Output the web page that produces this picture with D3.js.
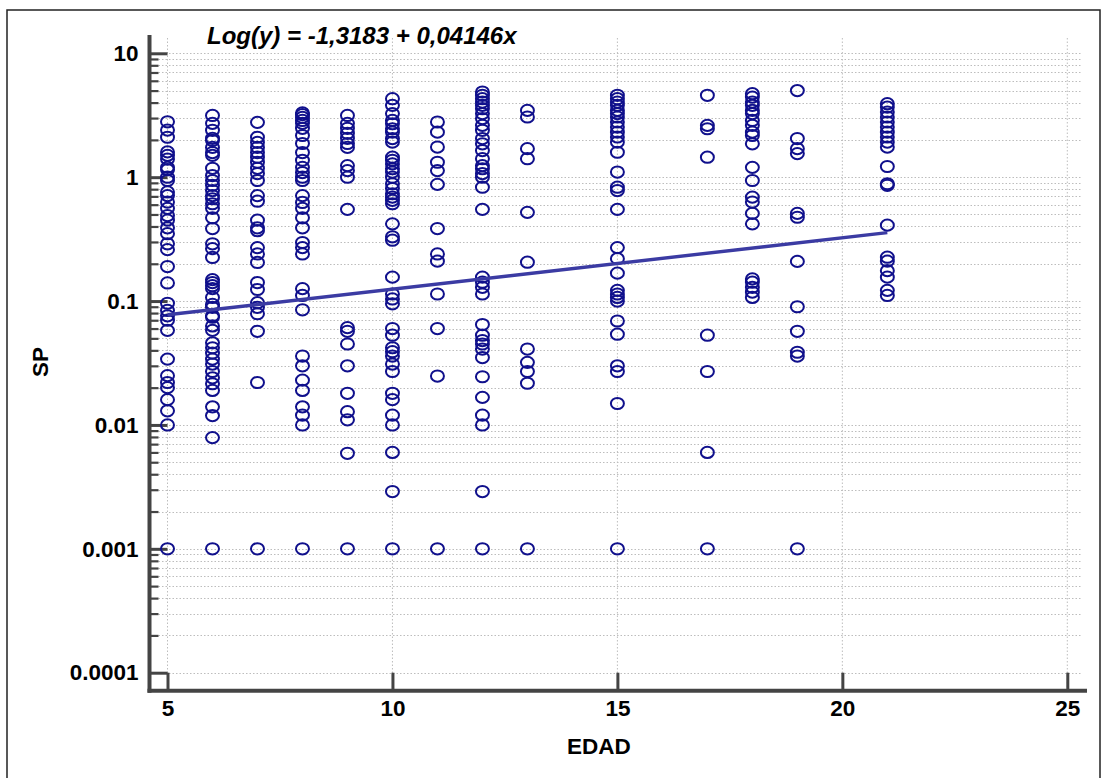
<!DOCTYPE html>
<html>
<head>
<meta charset="utf-8">
<script src="https://cdn.jsdelivr.net/npm/d3@7"></script>
<style>
  body { margin: 0; background: #fff; }
  text { font-family: "Liberation Sans", Arial, sans-serif; font-weight: bold; }
</style>
</head>
<body>
<svg id="chart" width="1108" height="778"></svg>
<script>
// SP values read per EDAD column
var sp5 = [2.8, 2.4, 2.1, 1.6, 1.5, 1.4, 1.2, 1.15, 1.0, 0.94, 0.76, 0.71, 0.63, 0.56, 0.49, 0.45, 0.39, 0.35, 0.29, 0.26, 0.19, 0.14, 0.096, 0.084, 0.076, 0.07, 0.058, 0.034, 0.025, 0.022, 0.02, 0.016, 0.013, 0.01, 0.001];
var sp6 = [3.15, 2.72, 2.39, 2.06, 1.98, 1.74, 1.58, 1.5, 1.18, 1.03, 0.94, 0.86, 0.78, 0.71, 0.67, 0.61, 0.56, 0.47, 0.385, 0.29, 0.265, 0.225, 0.149, 0.141, 0.133, 0.126, 0.107, 0.094, 0.089, 0.076, 0.074, 0.063, 0.058, 0.046, 0.042, 0.038, 0.034, 0.031, 0.027, 0.024, 0.0215, 0.019, 0.014, 0.0119, 0.0079, 0.001];
var sp7 = [2.77, 2.1, 1.91, 1.74, 1.58, 1.45, 1.32, 1.18, 1.07, 0.94, 0.71, 0.64, 0.45, 0.39, 0.37, 0.27, 0.24, 0.205, 0.141, 0.124, 0.097, 0.089, 0.079, 0.057, 0.022, 0.001];
var sp8 = [3.3, 3.2, 3.04, 2.87, 2.72, 2.48, 2.17, 1.87, 1.58, 1.37, 1.2, 1.09, 1.0, 0.94, 0.71, 0.625, 0.56, 0.47, 0.39, 0.297, 0.27, 0.24, 0.126, 0.111, 0.085, 0.036, 0.03, 0.023, 0.019, 0.014, 0.012, 0.01, 0.001];
var sp9 = [3.15, 2.72, 2.48, 2.26, 2.06, 1.87, 1.74, 1.24, 1.13, 1.0, 0.55, 0.061, 0.057, 0.045, 0.03, 0.018, 0.0128, 0.011, 0.0059, 0.001];
var sp10 = [4.3, 3.8, 3.26, 2.87, 2.7, 2.46, 2.31, 2.05, 1.92, 1.45, 1.37, 1.28, 1.17, 1.1, 1.0, 0.885, 0.81, 0.735, 0.69, 0.65, 0.61, 0.42, 0.33, 0.31, 0.156, 0.114, 0.104, 0.095, 0.06, 0.053, 0.042, 0.039, 0.036, 0.031, 0.027, 0.018, 0.016, 0.012, 0.01, 0.006, 0.0029, 0.001];
var sp11 = [2.79, 2.31, 1.75, 1.32, 1.13, 0.875, 0.385, 0.24, 0.21, 0.114, 0.06, 0.0248, 0.001];
var sp12 = [4.87, 4.58, 4.3, 4.04, 3.8, 3.57, 3.26, 2.97, 2.62, 2.39, 2.05, 1.86, 1.64, 1.41, 1.24, 1.17, 1.07, 1.0, 0.83, 0.55, 0.156, 0.142, 0.129, 0.114, 0.0646, 0.053, 0.048, 0.045, 0.041, 0.035, 0.0245, 0.0167, 0.012, 0.01, 0.0029, 0.001];
var sp13 = [3.46, 3.06, 1.7, 1.41, 0.52, 0.206, 0.041, 0.032, 0.027, 0.0217, 0.001];
var sp15 = [4.58, 4.3, 4.04, 3.8, 3.46, 3.26, 3.06, 2.79, 2.54, 2.31, 2.11, 1.92, 1.59, 1.1, 0.83, 0.78, 0.55, 0.27, 0.22, 0.168, 0.122, 0.114, 0.107, 0.1, 0.069, 0.054, 0.03, 0.027, 0.0149, 0.001];
var sp17 = [4.58, 2.62, 2.46, 1.45, 0.053, 0.027, 0.006, 0.001];
var sp18 = [4.72, 4.43, 4.04, 3.8, 3.46, 3.26, 2.87, 2.62, 2.31, 2.17, 1.86, 1.2, 0.94, 0.69, 0.63, 0.51, 0.42, 0.151, 0.142, 0.129, 0.118, 0.107];
var sp19 = [5.0, 2.05, 1.7, 1.55, 0.51, 0.475, 0.209, 0.09, 0.057, 0.0386, 0.036, 0.001];
var sp21 = [3.92, 3.68, 3.36, 3.06, 2.79, 2.54, 2.31, 2.11, 1.92, 1.75, 1.22, 0.885, 0.86, 0.41, 0.226, 0.21, 0.176, 0.156, 0.122, 0.111];

var edadValues = [5, 6, 7, 8, 9, 10, 11, 12, 13, 15, 17, 18, 19, 21];
var spColumns = [sp5, sp6, sp7, sp8, sp9, sp10, sp11, sp12, sp13, sp15, sp17, sp18, sp19, sp21];

var xTicks = [5, 10, 15, 20, 25];
var yTicks = [10, 1, 0.1, 0.01, 0.001, 0.0001];
var yTickLabels = ["10", "1", "0.1", "0.01", "0.001", "0.0001"];

// regression  Log(y) = a + b x
var intercept = -1.3183;
var slope = 0.04146;
var titleText = "Log(y) = -1,3183 + 0,04146x";

var AXIS_LEFT = 149.5, AXIS_RIGHT = 1087, AXIS_TOP = 35, AXIS_BOTTOM = 690.7;

var points = [];
edadValues.forEach(function(x, i) {
    spColumns[i].forEach(function(v) { points.push({x: x, y: v}); });
});

var svg = d3.select("#chart");

// outer frame
svg.append("rect")
    .attr("x", 7).attr("y", 10).attr("width", 1093).attr("height", 780)
    .attr("fill", "none").attr("stroke", "#222").attr("stroke-width", 1.5);

var x = d3.scaleLinear().domain([5, 25]).range([167.5, 1067.3]);
var y = d3.scaleLog().domain([0.0001, 10]).range([672.7, 53.3]);

// minor/major log values for grid
var gridValues = [];
for (var e = -4; e <= 1; e++) {
    for (var m = 1; m <= 9; m++) {
        var v = m * Math.pow(10, e);
        if (v <= 10.0001) gridValues.push(v);
    }
}
var minorValues = gridValues.filter(function(v) { return yTicks.indexOf(v) < 0 && Math.abs(Math.log10(v) % 1) > 1e-9; });

// grid
var grid = svg.append("g").attr("stroke", "#bdbdbd").attr("stroke-width", 1).attr("stroke-dasharray", "1.5,2");
grid.selectAll("line.h").data(gridValues).enter().append("line")
    .attr("x1", AXIS_LEFT + 2).attr("x2", 1082)
    .attr("y1", function(d) { return Math.round(y(d)) + 0.5; })
    .attr("y2", function(d) { return Math.round(y(d)) + 0.5; });
grid.selectAll("line.v").data(xTicks).enter().append("line")
    .attr("x1", function(d) { return x(d); }).attr("x2", function(d) { return x(d); })
    .attr("y1", 38).attr("y2", AXIS_BOTTOM);

// y axis (ticks drawn inward, labels left)
var yAxis = d3.axisLeft(y).tickValues(yTicks)
    .tickFormat(function(d, i) { return yTickLabels[i]; })
    .tickSizeInner(-18).tickSizeOuter(0).tickPadding(11);
var gy = svg.append("g").attr("transform", "translate(" + AXIS_LEFT + ",0)").call(yAxis);
gy.select(".domain").remove();
gy.selectAll(".tick line").attr("stroke", "#444").attr("stroke-width", 3);
gy.selectAll(".tick text").attr("fill", "#000").style("font-size", "22.5px");

var yMinor = d3.axisLeft(y).tickValues(minorValues).tickFormat("")
    .tickSizeInner(-9).tickSizeOuter(0);
var gym = svg.append("g").attr("transform", "translate(" + AXIS_LEFT + ",0)").call(yMinor);
gym.select(".domain").remove();
gym.selectAll(".tick line").attr("stroke", "#444").attr("stroke-width", 2.2);

// x axis (ticks drawn upward)
var xAxis = d3.axisBottom(x).tickValues(xTicks).tickFormat(d3.format("d"))
    .tickSizeInner(-18).tickSizeOuter(0).tickPadding(9);
var gx = svg.append("g").attr("transform", "translate(0," + AXIS_BOTTOM + ")").call(xAxis);
gx.select(".domain").remove();
gx.selectAll(".tick line").attr("stroke", "#444").attr("stroke-width", 3);
gx.selectAll(".tick text").attr("fill", "#000").style("font-size", "22.5px");

// thick axis lines
svg.append("line").attr("x1", AXIS_LEFT).attr("x2", AXIS_LEFT)
    .attr("y1", AXIS_TOP).attr("y2", AXIS_BOTTOM + 2)
    .attr("stroke", "#444").attr("stroke-width", 4);
svg.append("line").attr("x1", AXIS_LEFT - 2).attr("x2", AXIS_RIGHT)
    .attr("y1", AXIS_BOTTOM).attr("y2", AXIS_BOTTOM)
    .attr("stroke", "#444").attr("stroke-width", 4);

// points
svg.append("g").selectAll("ellipse").data(points).enter().append("ellipse")
    .attr("cx", function(d) { return x(d.x); })
    .attr("cy", function(d) { return y(d.y); })
    .attr("rx", 6.5).attr("ry", 5.6)
    .attr("fill", "none").attr("stroke", "#10108c").attr("stroke-width", 2);

// regression line
var xMin = d3.min(edadValues), xMax = d3.max(edadValues);
var fit = [xMin, xMax].map(function(v) { return {x: v, y: Math.pow(10, intercept + slope * v)}; });
svg.append("path").datum(fit)
    .attr("d", d3.line().x(function(d) { return x(d.x); }).y(function(d) { return y(d.y); }))
    .attr("fill", "none").attr("stroke", "#3b3ba3").attr("stroke-width", 3.4);

// titles
svg.append("text").attr("x", 207).attr("y", 44)
    .style("font-size", "24px").style("font-style", "italic")
    .text(titleText);
svg.append("text").attr("x", 599).attr("y", 754).attr("text-anchor", "middle")
    .style("font-size", "22.5px").text("EDAD");
svg.append("text").attr("transform", "translate(48,362) rotate(-90)").attr("text-anchor", "middle")
    .style("font-size", "22.5px").text("SP");
</script>
</body>
</html>
